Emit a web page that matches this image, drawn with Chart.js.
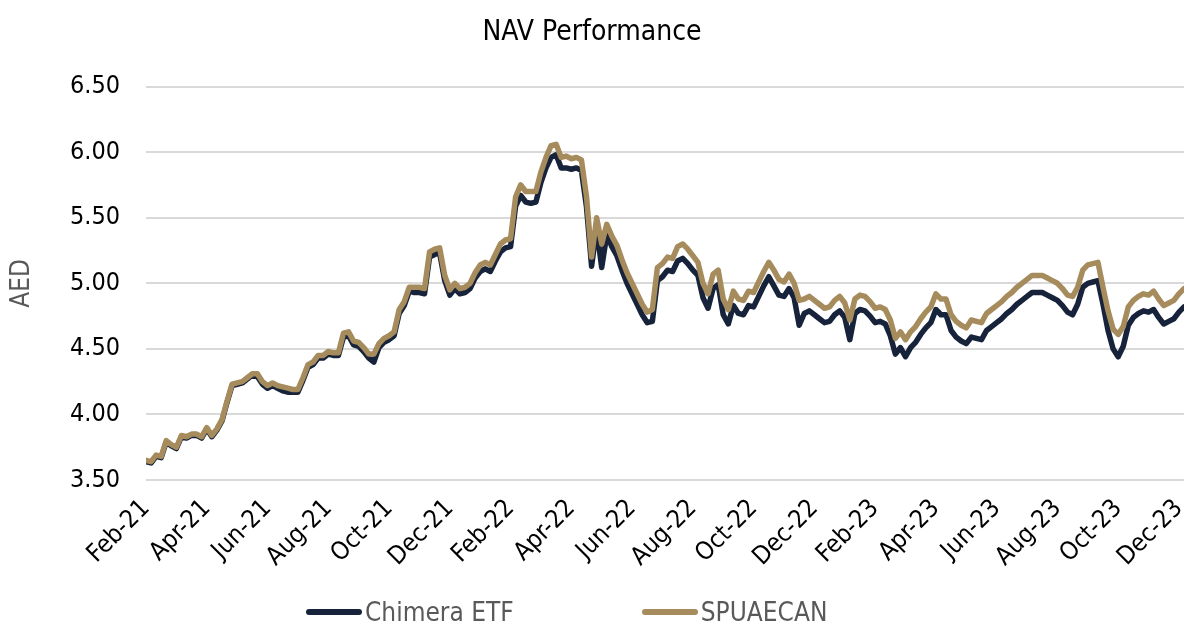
<!DOCTYPE html>
<html>
<head>
<meta charset="utf-8">
<title>NAV Performance</title>
<script src="https://cdn.jsdelivr.net/npm/chart.js@4.4.1/dist/chart.umd.min.js"></script>
<style>
  html, body { margin: 0; padding: 0; background: #fff; }
  #wrap { position: relative; width: 1184px; height: 626px; }
  #legend {
    position: absolute; left: 306px; top: 597px;
    display: flex; gap: 128px;
    font-family: "DejaVu Sans Condensed", "DejaVu Sans", sans-serif;
    font-size: 26px; line-height: 30px; color: #595959;
  }
  #legend .item { display: flex; align-items: center; }
  #legend .swatch { width: 56px; height: 6px; border-radius: 3px; margin-right: 3px; }
</style>
</head>
<body>
<div id="wrap">
  <canvas id="navChart" width="1184" height="626"></canvas>
  <div id="legend"></div>
</div>
<script>
// x axis labels, one every two months starting Feb-21
const monthLabels = ['Feb-21', 'Apr-21', 'Jun-21', 'Aug-21', 'Oct-21', 'Dec-21',
  'Feb-22', 'Apr-22', 'Jun-22', 'Aug-22', 'Oct-22', 'Dec-22',
  'Feb-23', 'Apr-23', 'Jun-23', 'Aug-23', 'Oct-23', 'Dec-23'];
const yMin = 3.5;
const yMax = 6.5;
const yStep = 0.5;
const obsStep = 1 / 6; // months between two readings

// NAV, AED
const chimera = [
  3.64, 3.63, 3.68, 3.67, 3.79, 3.76, 3.74, 3.83, 3.82, 3.84,
  3.84, 3.82, 3.89, 3.83, 3.88, 3.95, 4.09, 4.22, 4.23, 4.24,
  4.27, 4.30, 4.29, 4.23, 4.20, 4.22, 4.20, 4.18, 4.17, 4.17,
  4.17, 4.26, 4.36, 4.38, 4.43, 4.43, 4.46, 4.45, 4.45, 4.59,
  4.60, 4.53, 4.52, 4.48, 4.43, 4.40, 4.51, 4.55, 4.57, 4.60,
  4.77, 4.83, 4.94, 4.93, 4.93, 4.92, 5.20, 5.22, 5.23, 5.02,
  4.91, 4.96, 4.92, 4.93, 4.96, 5.04, 5.09, 5.11, 5.09, 5.17,
  5.24, 5.27, 5.28, 5.59, 5.67, 5.62, 5.61, 5.62, 5.77, 5.88,
  5.96, 5.98, 5.88, 5.88, 5.87, 5.88, 5.86, 5.58, 5.13, 5.42,
  5.12, 5.37, 5.28, 5.21, 5.10, 5.00, 4.92, 4.84, 4.76, 4.70,
  4.71, 5.02, 5.05, 5.10, 5.09, 5.17, 5.19, 5.15, 5.10, 5.06,
  4.89, 4.81, 4.96, 4.99, 4.76, 4.69, 4.83, 4.77, 4.76, 4.83,
  4.82, 4.90, 4.98, 5.05, 4.98, 4.91, 4.90, 4.96, 4.89, 4.68,
  4.77, 4.79, 4.76, 4.73, 4.70, 4.71, 4.76, 4.79, 4.74, 4.57,
  4.77, 4.80, 4.79, 4.75, 4.70, 4.71, 4.69, 4.60, 4.46, 4.51,
  4.44, 4.51, 4.55, 4.61, 4.66, 4.70, 4.80, 4.76, 4.76, 4.64,
  4.59, 4.56, 4.54, 4.59, 4.58, 4.57, 4.64, 4.67, 4.70, 4.73,
  4.77, 4.80, 4.84, 4.87, 4.90, 4.93, 4.93, 4.93, 4.91, 4.89,
  4.87, 4.83, 4.78, 4.76, 4.84, 4.97, 5.00, 5.01, 5.02, 4.84,
  4.64, 4.50, 4.44, 4.52, 4.68, 4.74, 4.77, 4.79, 4.78, 4.80,
  4.74, 4.69, 4.71, 4.73, 4.78, 4.82
];
const spuaecan = [
  3.65, 3.64, 3.69, 3.68, 3.80, 3.77, 3.75, 3.84, 3.83, 3.85,
  3.85, 3.83, 3.90, 3.84, 3.89, 3.96, 4.10, 4.23, 4.24, 4.25,
  4.28, 4.31, 4.31, 4.25, 4.22, 4.24, 4.22, 4.21, 4.20, 4.19,
  4.19, 4.28, 4.38, 4.40, 4.45, 4.45, 4.48, 4.47, 4.47, 4.62,
  4.63, 4.56, 4.55, 4.51, 4.46, 4.46, 4.54, 4.58, 4.60, 4.63,
  4.80, 4.86, 4.97, 4.97, 4.97, 4.96, 5.24, 5.26, 5.27, 5.06,
  4.95, 5.00, 4.96, 4.97, 5.00, 5.08, 5.14, 5.16, 5.14, 5.22,
  5.30, 5.33, 5.34, 5.66, 5.75, 5.70, 5.70, 5.70, 5.85, 5.96,
  6.05, 6.06, 5.96, 5.97, 5.95, 5.96, 5.94, 5.66, 5.20, 5.50,
  5.30, 5.45, 5.36, 5.29, 5.18, 5.08, 5.00, 4.92, 4.84, 4.78,
  4.80, 5.12, 5.15, 5.20, 5.19, 5.28, 5.30, 5.26, 5.21, 5.16,
  5.00, 4.92, 5.07, 5.10, 4.88, 4.80, 4.94, 4.88, 4.87, 4.94,
  4.93, 5.01, 5.09, 5.16, 5.10, 5.03, 5.01, 5.07, 5.00, 4.87,
  4.88, 4.90, 4.87, 4.84, 4.81, 4.82, 4.87, 4.90, 4.85, 4.72,
  4.88, 4.91, 4.90, 4.86, 4.81, 4.82, 4.80, 4.72, 4.58, 4.63,
  4.57, 4.63, 4.67, 4.73, 4.78, 4.82, 4.92, 4.88, 4.88, 4.76,
  4.71, 4.68, 4.66, 4.72, 4.71, 4.70, 4.77, 4.80, 4.83, 4.86,
  4.90, 4.93, 4.97, 5.00, 5.03, 5.06, 5.06, 5.06, 5.04, 5.02,
  5.00, 4.96, 4.91, 4.90, 4.97, 5.10, 5.14, 5.15, 5.16, 4.97,
  4.79, 4.65, 4.61, 4.67, 4.82, 4.87, 4.90, 4.92, 4.91, 4.94,
  4.88, 4.83, 4.85, 4.87, 4.92, 4.96
];

const navy = '#16233a';
const tan = '#a68b5c';
const fontFamily = '"DejaVu Sans Condensed", "DejaVu Sans", sans-serif';

function toPoints(values) {
  return values.map((v, i) => ({ x: i * obsStep, y: v }));
}

let chart = new Chart(document.getElementById('navChart'), {
  type: 'line',
  data: {
    datasets: [
      {
        label: 'Chimera ETF',
        data: toPoints(chimera),
        borderColor: navy,
        backgroundColor: navy,
        order: 1
      },
      {
        label: 'SPUAECAN',
        data: toPoints(spuaecan),
        borderColor: tan,
        backgroundColor: tan,
        order: 0 // drawn on top
      }
    ]
  },
  options: {
    responsive: false,
    animation: false,
    layout: { padding: { left: 0, right: 0, top: 0, bottom: 56 } },
    elements: {
      point: { radius: 0 },
      line: { borderWidth: 5.5, tension: 0, borderCapStyle: 'round', borderJoinStyle: 'round' }
    },
    plugins: {
      legend: { display: false },
      tooltip: { enabled: false },
      title: {
        display: true,
        text: 'NAV Performance',
        color: '#000',
        font: { family: fontFamily, size: 28, weight: 'normal' },
        padding: { top: 16, bottom: 37 }
      }
    },
    scales: {
      x: {
        type: 'linear',
        min: 0,
        max: (chimera.length - 1) * obsStep,
        grid: { display: false },
        border: { display: false },
        ticks: {
          stepSize: 2,
          includeBounds: false,
          autoSkip: false,
          minRotation: 45,
          maxRotation: 45,
          padding: 6,
          color: '#000',
          font: { family: fontFamily, size: 25 },
          callback: (value) => (Number.isInteger(value / 2) ? monthLabels[value / 2] || '' : '')
        },
        afterFit: (scale) => {
          scale.height = 90;
          scale.paddingLeft = 0;
          scale.paddingRight = 0;
        }
      },
      y: {
        min: yMin,
        max: yMax,
        grid: { color: '#d9d9d9', lineWidth: 2, drawTicks: false },
        border: { display: false },
        ticks: {
          stepSize: yStep,
          padding: 26,
          color: '#000',
          font: { family: fontFamily, size: 25 },
          callback: (value) => value.toFixed(2)
        },
        title: {
          display: true,
          text: 'AED',
          color: '#595959',
          font: { family: fontFamily, size: 26 },
          padding: { top: 7, bottom: 0 }
        },
        afterFit: (scale) => {
          scale.width = 146;
        }
      }
    }
  }
});

// legend under the chart, in dataset order
const legendBox = document.getElementById('legend');
chart.data.datasets.forEach((ds) => {
  const item = document.createElement('div');
  item.className = 'item';
  const swatch = document.createElement('span');
  swatch.className = 'swatch';
  swatch.style.background = ds.borderColor;
  const text = document.createElement('span');
  text.textContent = ds.label;
  item.appendChild(swatch);
  item.appendChild(text);
  legendBox.appendChild(item);
});
</script>
</body>
</html>
